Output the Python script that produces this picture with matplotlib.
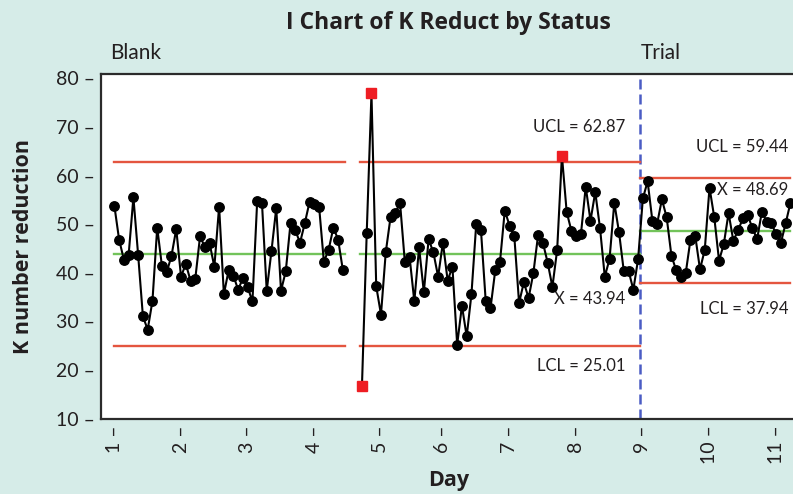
import numpy as np
import matplotlib.pyplot as plt

plt.rcParams['font.family'] = ['Lato', 'DejaVu Sans']

nan = np.nan

# K number reduction, one value per observation (nan = missing)
blank = [53.8, 46.8, 42.7, 43.7, 55.5, 43.6, 31.0, 28.3, 34.2, 49.3,
         41.3, 40.1, 43.5, 49.0, 39.2, 41.8, 38.4, 38.8, 47.5, 45.3,
         46.1, 41.2, 53.6, 35.6, 40.5, 39.4, 36.5, 38.9, 37.0, 34.1,
         54.8, 54.4, 36.3, 44.5, 53.3, 36.3, 40.3, 50.2, 48.7, 46.2,
         50.2, 54.6, 54.1, 53.6, 42.3, 44.7, 49.3, 46.8, 40.5, nan,
         nan, nan, 16.6, 48.1, 76.9, 37.2, 31.4, 44.2, 51.4, 52.3,
         54.4, 42.3, 43.3, 34.1, 45.2, 36.0, 46.9, 44.2, 39.2, 46.2,
         38.4, 41.2, 25.2, 33.2, 26.9, 35.6, 50.0, 48.7, 34.1, 32.7,
         40.5, 42.3, 52.8, 49.7, 47.5, 33.8, 38.0, 34.8, 39.9, 47.8,
         46.2, 42.1, 37.1, 44.7, 64.1, 52.5, 48.6, 47.5, 48.0, 57.7,
         50.7, 56.6, 49.2, 39.2, 42.8, 54.4, 48.3, 40.3, 40.4, 36.5,
         42.8]
trial = [55.3, 58.8, 50.7, 50.1, 55.1, 51.4, 43.5, 40.5, 39.2, 39.9,
         46.8, 47.6, 40.7, 44.7, 57.5, 51.4, 42.5, 45.9, 52.3, 46.6,
         48.7, 51.2, 51.9, 49.2, 46.9, 52.6, 50.5, 50.2, 47.9, 46.2,
         50.2, 54.4]

# (LCL, mean, UCL) per stage
blank_limits = (25.01, 43.94, 62.87)
trial_limits = (37.94, 48.69, 59.44)

day_labels = ['1', '2', '3', '4', '5', '6', '7', '8', '9', '10', '11']
day_ticks = [0, 14, 28, 42, 56, 69, 83, 97, 111, 125, 139]
y_ticks = [10, 20, 30, 40, 50, 60, 70, 80]

BG = '#d6ece8'
RED = '#e4553f'
GREEN = '#72c35a'
TXT = '#231f20'
BOLD = ['Open Sans', 'DejaVu Sans']

y = np.array(blank + trial, dtype=float)
x = np.arange(len(y))
nb = len(blank)
last = len(y) - 1
split = nb - 0.5

fig = plt.figure(figsize=(7.93, 4.94), dpi=100, facecolor=BG)
ax = fig.add_axes([0.1274, 0.1518, 0.8766, 0.6984])


def runs(lo, hi):
    # consecutive stretches of non-missing observations in [lo, hi)
    out = []
    start = None
    for i in range(lo, hi):
        if np.isnan(y[i]):
            if start is not None:
                out.append((start, i - 1))
                start = None
        elif start is None:
            start = i
    if start is not None:
        out.append((start, hi - 1))
    return out


stages = [(0, nb, blank_limits), (nb, len(y), trial_limits)]
for lo, hi, (lcl, cl, ucl) in stages:
    for a, b in runs(lo, hi):
        x0 = a if a == 0 else a - 0.5
        x1 = b if b == last else b + 0.5
        ax.plot([x0, x1], [ucl, ucl], color=RED, lw=1.7, zorder=2)
        ax.plot([x0, x1], [lcl, lcl], color=RED, lw=1.7, zorder=2)
        ax.plot([x0, x1], [cl, cl], color=GREEN, lw=1.7, zorder=2)

ax.axvline(split, color='#4b5cc4', lw=1.8, ls=(0, (4, 2)), zorder=1)

ax.plot(x, y, color='black', lw=1.5, zorder=3)
lim_lo = np.where(x < nb, blank_limits[0], trial_limits[0])
lim_hi = np.where(x < nb, blank_limits[2], trial_limits[2])
out = (y > lim_hi) | (y < lim_lo)
ax.plot(x[~out], y[~out], 'o', color='black', ms=6.8, zorder=4)
ax.plot(x[out], y[out], 's', color='#ee1d23', ms=6.8, zorder=5)

kw = dict(fontsize=12, color=TXT, ha='right', va='center')
ax.text(107.3, 70.0, 'UCL = 62.87', **kw)
ax.text(107.3, 34.5, 'X = 43.94', **kw)
ax.text(107.3, 20.9, 'LCL = 25.01', **kw)
ax.text(141.5, 65.9, 'UCL = 59.44', **kw)
ax.text(141.5, 57.0, 'X = 48.69', **kw)
ax.text(141.5, 32.6, 'LCL = 37.94', **kw)

ax.set_xlim(-2.8, 143.2)
ax.set_ylim(9.9, 80.9)
# Minitab style: the tick dash sits in the label, detached from the frame
ax.set_yticks(y_ticks)
ax.set_yticklabels([f'{v} \u2013' for v in y_ticks])
ax.set_xticks(day_ticks)
ax.set_xticklabels([f'{d} \u2013' for d in day_labels], rotation=90)
ax.tick_params(axis='both', length=0, labelsize=14, labelcolor=TXT, pad=4.5)
for s in ax.spines.values():
    s.set_linewidth(1.6)
    s.set_color('#2b2b2b')
ax.spines['right'].set_visible(False)

ax.set_ylabel('K number reduction', fontsize=15.5, fontweight='bold',
              family=BOLD, color=TXT, labelpad=16)
ax.set_xlabel('Day', fontsize=15.5, fontweight='bold', family=BOLD,
              color=TXT, labelpad=4)
fig.text(0.565, 0.953, 'I Chart of K Reduct by Status', fontsize=16.5,
         fontweight='bold', family=BOLD, color=TXT, ha='center', va='center')
fig.text(0.139, 0.893, 'Blank', fontsize=15, color=TXT, va='center')
fig.text(0.808, 0.893, 'Trial', fontsize=15, color=TXT, va='center')

plt.savefig('out.png', dpi=100, facecolor=BG)
